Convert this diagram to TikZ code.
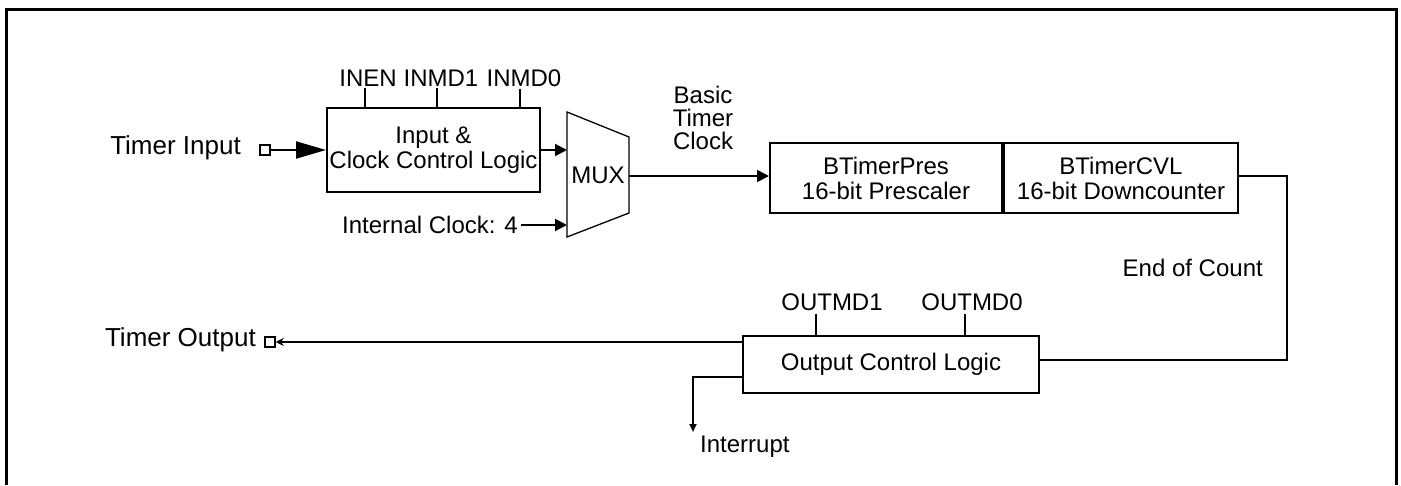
\documentclass[tikz,border=0pt]{standalone}
\usepackage{fontspec}
\setmainfont{Liberation Sans}
\usetikzlibrary{arrows.meta}
\begin{document}
\begin{tikzpicture}[x=1pt,y=-1pt,
  txt/.style={font=\fontsize{24}{25}\selectfont, inner sep=0pt, align=center},
  biglbl/.style={font=\fontsize{26}{27}\selectfont, inner sep=0pt},
  blk/.style={draw, line width=2pt, inner sep=0pt, align=center, font=\fontsize{24}{25}\selectfont},
  wire/.style={line width=2pt},
  stub/.style={line width=1.3pt},
  tip/.style={-{Triangle[length=12pt,width=12pt]}},
  bigtip/.style={-{Triangle[length=30pt,width=17pt]}},
  smalltip/.style={-{Triangle[length=8pt,width=7pt]}},
  port/.style={draw, line width=1.5pt, minimum size=10pt, inner sep=0pt},
]
\useasboundingbox (0,0) rectangle (1401,485);
\draw[line width=3pt] (6,485) -- (6,9) -- (1396,9) -- (1396,485);

% input block
\node[blk, minimum width=213pt, minimum height=84pt] (inbox) at (433.5,150) {Input \&\\Clock Control Logic};
\node[txt] (inen) at (368,78) {INEN};
\node[txt] (inmd1) at (441,78) {INMD1};
\node[txt] (inmd0) at (524,78) {INMD0};
\draw[stub] ([xshift=-3pt,yshift=-2pt]inen.south) -- ([xshift=-3pt]inen.south |- inbox.north);
\draw[stub] ([xshift=-4pt,yshift=-2pt]inmd1.south) -- ([xshift=-4pt]inmd1.south |- inbox.north);
\draw[stub] ([xshift=-4pt,yshift=-2pt]inmd0.south) -- ([xshift=-4pt]inmd0.south |- inbox.north);

% timer input
\node[biglbl, anchor=east] (tin) at (241,148) {Timer Input};
\node[port] (pin) at (265,150) {};
\draw[wire, bigtip] (pin.east) -- (inbox.west |- pin);

% MUX
\coordinate (m1) at (567,112);
\coordinate (m2) at (629,137);
\coordinate (m3) at (629,213);
\coordinate (m4) at (567,237);
\draw[stub] (m1) -- (m2) -- (m3) -- (m4) -- cycle;
\node[txt] (mux) at (598,175) {MUX};
\draw[wire, tip] (inbox.east) -- (inbox.east -| m1);
\node[txt, anchor=east] (iclk) at (518,225) {Internal Clock: 4};
\draw[wire, tip] ([xshift=3pt]iclk.east) -- (iclk.east -| m1);
\coordinate (mout) at (629,176);

% timer blocks
\node[blk, minimum width=232pt, minimum height=70pt] (pres) at (886,178) {BTimerPres\\16-bit Prescaler};
\node[blk, minimum width=234pt, minimum height=70pt, anchor=west] (cvl) at (pres.east) {BTimerCVL\\16-bit Downcounter};
\draw[wire, tip] (mout) -- (mout -| pres.west);
\node[txt, font=\fontsize{24}{23}\selectfont] (btc) at (703,118) {Basic\\Timer\\Clock};

% output block
\node[blk, minimum width=296pt, minimum height=57pt] (outbox) at (891,364) {Output Control Logic};
\node[txt] (omd1) at (832,302) {OUTMD1};
\node[txt] (omd0) at (972,302) {OUTMD0};
\draw[stub] ([xshift=-16pt,yshift=-3pt]omd1.south) -- ([xshift=-16pt]omd1.south |- outbox.north);
\draw[stub] ([xshift=-7pt,yshift=-3pt]omd0.south) -- ([xshift=-7pt]omd0.south |- outbox.north);

\coordinate (turn) at (1287,360);
\draw[wire] (cvl.east |- mout) -| (turn) -- (outbox.east |- turn);
\node[txt, anchor=east] (eoc) at (1263,268) {End of Count};

% timer output
\node[port] (pout) at (270,342) {};
\node[biglbl, anchor=east] (tout) at (256,340) {Timer Output};
\draw[wire, -{Stealth[length=8pt,width=8pt]}] ([yshift=22pt]outbox.west) -- (pout.east);

% interrupt
\coordinate (intr) at (693,432);
\draw[wire, smalltip] ([yshift=-13pt]outbox.west) -| (intr);
\node[txt, anchor=west] (intxt) at (700,447) {Interrupt};
\end{tikzpicture}
\end{document}
